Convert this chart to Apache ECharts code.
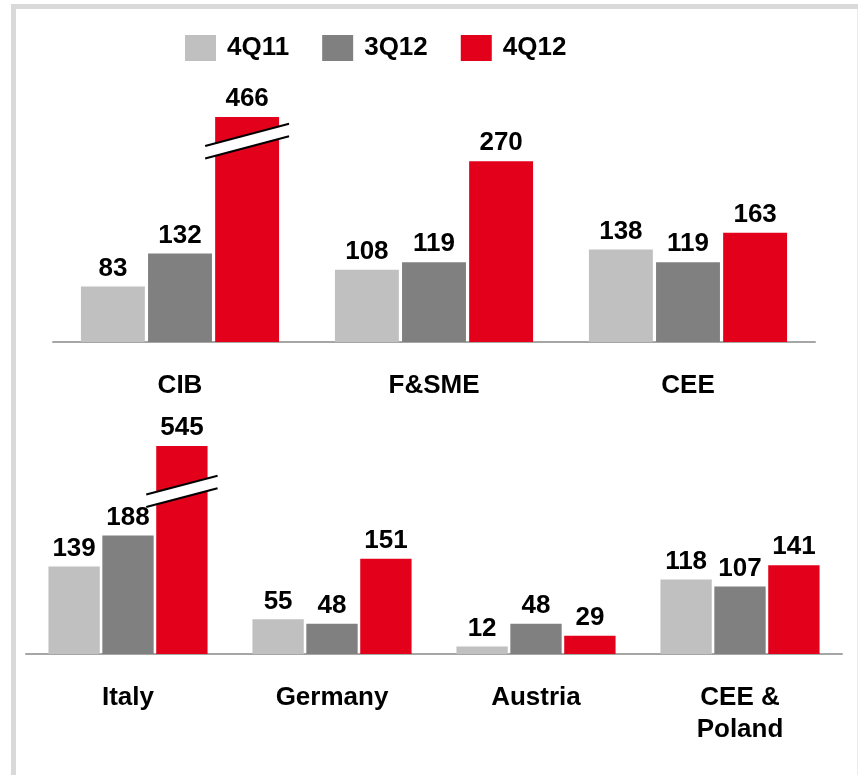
<!DOCTYPE html>
<html><head><meta charset="utf-8">
<script src="https://cdn.jsdelivr.net/npm/echarts@6/dist/echarts.min.js"></script>
<style>html,body{margin:0;padding:0;background:#fff}#c{width:858px;height:775px}</style>
</head><body><div id="c"></div>
<script>
const seriesNames = ['4Q11', '3Q12', '4Q12'];
const topCategories = ['CIB', 'F&SME', 'CEE'];
const top4Q11 = [83, 108, 138];
const top3Q12 = [132, 119, 119];
const top4Q12 = [466, 270, 163];
const topBreaks = [[0, 300]];          // category index, value at which the axis break is drawn
const bottomCategories = ['Italy', 'Germany', 'Austria', 'CEE &\nPoland'];
const bottom4Q11 = [139, 55, 12, 118];
const bottom3Q12 = [188, 48, 48, 107];
const bottom4Q12 = [545, 151, 29, 141];
const bottomBreaks = [[0, 258]];

const colors = ['#c0c0c0', '#808080', '#e2001a'];
const FONT = "'Liberation Sans', Arial, sans-serif";
const FS = 26;
const CAT_GAP = 0.22, BAR_GAP = 0.05;

const chart = echarts.init(document.getElementById('c'), null, {renderer: 'canvas'});

function breakRender(params, api) {
  const c = api.coord([api.value(0), api.value(1)]);
  const band = api.size([1, 0])[0];
  const group = band * (1 - CAT_GAP);
  const bw = group / (3 + 2 * BAR_GAP);
  const cx = c[0] + group / 2 - bw / 2;
  const hw = bw / 2 + 10;
  const slope = 0.265, gap = 12.5;
  const x1 = cx - hw, x2 = cx + hw;
  const yl = c[1] + hw * slope, yr = c[1] - hw * slope;
  return {
    type: 'group',
    children: [
      {type: 'polygon', shape: {points: [[x1, yl - gap / 2], [x2, yr - gap / 2], [x2, yr + gap / 2], [x1, yl + gap / 2]]},
        style: {fill: '#ffffff'}},
      {type: 'line', shape: {x1: x1, y1: yl - gap / 2, x2: x2, y2: yr - gap / 2}, style: {stroke: '#000', lineWidth: 2}},
      {type: 'line', shape: {x1: x1, y1: yl + gap / 2, x2: x2, y2: yr + gap / 2}, style: {stroke: '#000', lineWidth: 2}}
    ]
  };
}

function barSeries(name, data, idx, color) {
  return {
    name: name, type: 'bar', xAxisIndex: idx, yAxisIndex: idx, data: data,
    barCategoryGap: (CAT_GAP * 100) + '%', barGap: (BAR_GAP * 100) + '%',
    itemStyle: {color: color},
    clip: true,
    label: {show: true, position: 'top', distance: 5, color: '#000', fontSize: FS, fontWeight: 'bold', fontFamily: FONT},
    emphasis: {disabled: true}
  };
}

const xAxisCommon = {
  type: 'category',
  axisLine: {lineStyle: {color: '#a6a6a6', width: 2}},
  axisTick: {show: false},
  axisLabel: {color: '#000', fontSize: FS, fontWeight: 'bold', fontFamily: FONT, margin: 28, lineHeight: 32, interval: 0}
};

chart.setOption({
  animation: false,
  backgroundColor: '#fff',
  textStyle: {fontFamily: FONT},
  legend: {
    data: seriesNames, left: 185, top: 35, padding: 0, itemWidth: 31, itemHeight: 26, itemGap: 33, icon: 'rect',
    textStyle: {fontSize: FS, fontWeight: 'bold', color: '#000', fontFamily: FONT, padding: [0, 0, 0, 6]}
  },
  grid: [
    {left: 53, right: 43, top: 117, bottom: 433},
    {left: 26, right: 16, top: 446, bottom: 121}
  ],
  xAxis: [
    Object.assign({gridIndex: 0, data: topCategories}, xAxisCommon),
    Object.assign({gridIndex: 1, data: bottomCategories}, xAxisCommon)
  ],
  yAxis: [
    {gridIndex: 0, type: 'value', min: 0, max: 336, show: false, splitLine: {show: false}},
    {gridIndex: 1, type: 'value', min: 0, max: 330, show: false, splitLine: {show: false}}
  ],
  series: [
    barSeries(seriesNames[0], top4Q11, 0, colors[0]),
    barSeries(seriesNames[1], top3Q12, 0, colors[1]),
    barSeries(seriesNames[2], top4Q12, 0, colors[2]),
    barSeries(seriesNames[0], bottom4Q11, 1, colors[0]),
    barSeries(seriesNames[1], bottom3Q12, 1, colors[1]),
    barSeries(seriesNames[2], bottom4Q12, 1, colors[2]),
    {type: 'custom', xAxisIndex: 0, yAxisIndex: 0, data: topBreaks, renderItem: breakRender, clip: false, z: 10, silent: true},
    {type: 'custom', xAxisIndex: 1, yAxisIndex: 1, data: bottomBreaks, renderItem: breakRender, clip: false, z: 10, silent: true}
  ],
  graphic: [
    {type: 'rect', shape: {x: 13.5, y: 6.5, width: 1000, height: 1000}, style: {fill: 'none', stroke: '#d9d9d9', lineWidth: 5}, silent: true, z: -1},
    {type: 'line', shape: {x1: 857.5, y1: 9, x2: 857.5, y2: 775}, style: {stroke: '#ececec', lineWidth: 1}, silent: true, z: -1}
  ]
});
</script></body></html>
